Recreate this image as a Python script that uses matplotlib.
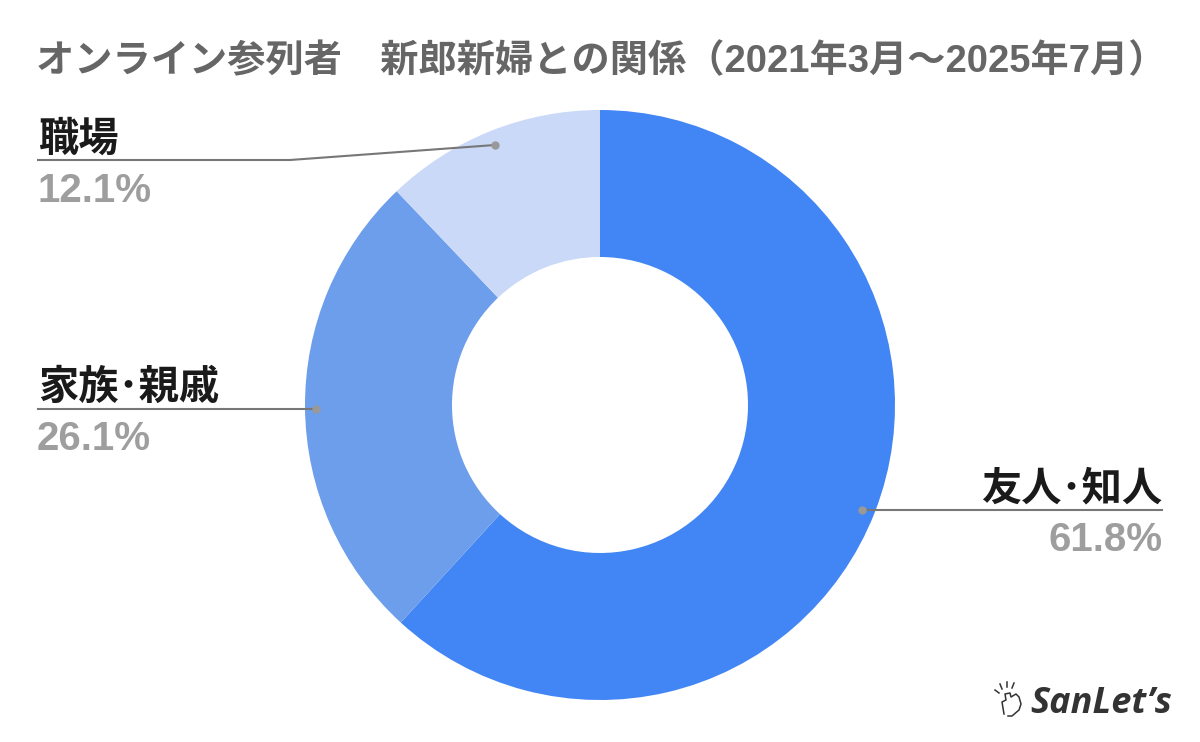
import matplotlib.pyplot as plt

# データ
labels = ["友人･知人", "家族･親戚", "職場"]
values = [61.8, 26.1, 12.1]
colors = ["#4285F4", "#6D9EEB", "#CAD9F8"]
pct_labels = ["61.8%", "26.1%", "12.1%"]
title = "オンライン参列者\u3000新郎新婦との関係（2021年3月～2025年7月）"

W, H = 1200, 742
fig = plt.figure(figsize=(12, 7.42), dpi=100)
ax = fig.add_axes([0, 0, 1, 1])

cx, cy, r = 600, H - 405, 295
ax.pie(values, colors=colors, startangle=90, counterclock=False,
       center=(cx, cy), radius=r, frame=True,
       wedgeprops=dict(width=147, linewidth=0))
ax.set_xlim(0, W)
ax.set_ylim(0, H)
ax.set_aspect("equal")
ax.axis("off")

jp = ["Noto Sans CJK JP"]
num = ["Liberation Sans", "Noto Sans CJK JP"]

fig.text(36 / W, 1 - 62 / H, title, fontsize=27.5, fontweight="bold",
         color="#666666", family=num, va="center", ha="left")

line_c = "#777777"
lab_fs, pct_fs = 29, 29
# 職場
ax.plot([38, 290, 495], [H - 160, H - 160, H - 145], color=line_c, lw=1.5)
ax.plot(495, H - 145, "o", color="#999999", ms=5)
ax.text(38, H - 151, labels[2], fontsize=lab_fs, fontweight="bold", family=jp,
        color="#1a1a1a", ha="left", va="baseline")
ax.text(37, H - 202, pct_labels[2], fontsize=pct_fs, fontweight="bold", family=num,
        color="#9E9E9E", ha="left", va="baseline")

# 家族・親戚
ax.plot([38, 316], [H - 409, H - 409], color=line_c, lw=1.5)
ax.plot(316, H - 409, "o", color="#999999", ms=5)
ax.text(38, H - 399, labels[1], fontsize=lab_fs, fontweight="bold", family=jp,
        color="#1a1a1a", ha="left", va="baseline")
ax.text(37, H - 450, pct_labels[1], fontsize=pct_fs, fontweight="bold", family=num,
        color="#9E9E9E", ha="left", va="baseline")

# 友人・知人
ax.plot([862, 1162], [H - 510, H - 510], color=line_c, lw=1.5)
ax.plot(862, H - 510, "o", color="#999999", ms=5)
ax.text(1162, H - 500, labels[0], fontsize=lab_fs, fontweight="bold", family=jp,
        color="#1a1a1a", ha="right", va="baseline")
ax.text(1163, H - 551, pct_labels[0], fontsize=pct_fs, fontweight="bold", family=num,
        color="#9E9E9E", ha="right", va="baseline")

# ロゴ
ax.text(1172, H - 713, "SanLet’s", fontsize=26, fontweight="bold",
        family=["Open Sans"], color="#333333", ha="right", va="baseline",
        style="italic")
for x0, y0, x1, y1 in [(995, 690, 999, 693), (1000, 684, 1002, 689),
                       (1007, 682, 1007, 687), (1014, 683, 1012, 688)]:
    ax.plot([x0, x1], [H - y0, H - y1], color="#333333", lw=1.1)
# 手のアイコン（簡易）
hand_x = [1004, 1002, 1006, 1005, 1010, 1011, 1016, 1019, 1021, 1019, 1012, 1008]
hand_y = [714, 702, 700, 694, 693, 697, 694, 697, 704, 710, 716, 716]
ax.plot(hand_x, [H - y for y in hand_y], color="#333333", lw=1.1)

fig.savefig("out.png", dpi=100, facecolor="white")
